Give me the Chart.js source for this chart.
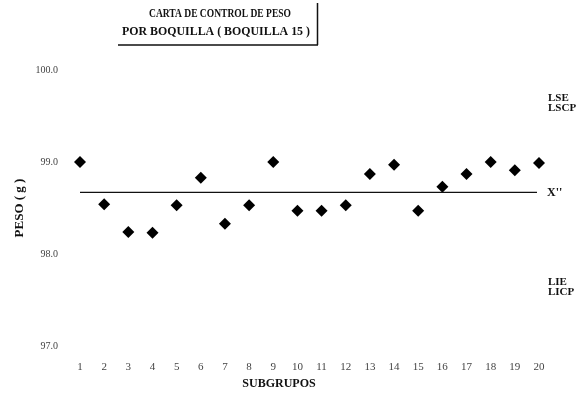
<!DOCTYPE html>
<html>
<head>
<meta charset="utf-8">
<script src="https://cdn.jsdelivr.net/npm/chart.js@4.4.1/dist/chart.umd.min.js"></script>
<style>
  html, body { margin: 0; padding: 0; background: #fff; }
  #wrap { width: 586px; height: 394px; position: relative; }
</style>
</head>
<body>
<div id="wrap"><canvas id="c" width="586" height="394"></canvas></div>
<script>
// Subgrupos (muestras) y peso medio de cada uno, en gramos
const subgrupos = ['1','2','3','4','5','6','7','8','9','10','11','12','13','14','15','16','17','18','19','20'];
const pesos = [99.00, 98.54, 98.24, 98.23, 98.53, 98.83, 98.33, 98.53, 99.00, 98.47,
               98.47, 98.53, 98.87, 98.97, 98.47, 98.73, 98.87, 99.00, 98.91, 98.99];
const lineaCentral = 98.67;               // X''
const ticksPeso = [97, 98, 99, 100];
const limitesSup = ['LSE', 'LSCP'];
const limitesInf = ['LIE', 'LICP'];
const titulo = ['CARTA DE CONTROL DE PESO', 'POR BOQUILLA ( BOQUILLA 15 )'];

const SERIF = '"Liberation Serif", "DejaVu Serif", serif';

const textos = {
  id: 'textos',
  afterDatasetsDraw(chart) {
    const { ctx, chartArea, scales } = chart;
    const y = scales.y;
    ctx.save();

    // línea central X''
    const yc = y.getPixelForValue(lineaCentral);
    ctx.strokeStyle = '#111';
    ctx.lineWidth = 1.3;
    ctx.beginPath();
    ctx.moveTo(chartArea.left, yc);
    ctx.lineTo(chartArea.right - 2, yc);
    ctx.stroke();

    ctx.fillStyle = '#111';
    ctx.font = 'bold 12px ' + SERIF;
    ctx.textAlign = 'left';
    ctx.textBaseline = 'middle';
    ctx.fillText("X''", chartArea.right + 8, yc + 1);

    // etiquetas de límites
    ctx.font = 'bold 11px ' + SERIF;
    ctx.fillText(limitesSup[0], 548, 98);
    ctx.fillText(limitesSup[1], 548, 108);
    ctx.fillText(limitesInf[0], 548, 282);
    ctx.fillText(limitesInf[1], 548, 292);

    // título con recuadro
    ctx.textAlign = 'center';
    ctx.font = 'bold 12.5px ' + SERIF;
    ctx.fillText(titulo[0], 220, 14, 142);
    ctx.fillText(titulo[1], 216, 32, 188);
    ctx.lineWidth = 1.5;
    ctx.beginPath();
    ctx.moveTo(118, 45);
    ctx.lineTo(318, 45);
    ctx.moveTo(317.5, 3);
    ctx.lineTo(317.5, 45);
    ctx.stroke();

    // títulos de ejes
    ctx.font = 'bold 12px ' + SERIF;
    ctx.fillText('SUBGRUPOS', 279, 384);
    ctx.save();
    ctx.translate(20, 208);
    ctx.rotate(-Math.PI / 2);
    ctx.font = 'bold 13px ' + SERIF;
    ctx.fillText('PESO ( g )', 0, 0);
    ctx.restore();

    ctx.restore();
  }
};

new Chart(document.getElementById('c'), {
  type: 'line',
  data: {
    labels: subgrupos,
    datasets: [{
      data: pesos,
      showLine: false,
      pointStyle: 'rectRot',
      pointRadius: 6,
      pointHoverRadius: 6,
      pointBackgroundColor: '#000',
      pointBorderColor: '#000',
      borderWidth: 0,
      clip: false
    }]
  },
  options: {
    responsive: false,
    animation: false,
    events: [],
    layout: { padding: { left: 0, right: 47, top: 70, bottom: 0 } },
    plugins: { legend: { display: false }, tooltip: { enabled: false }, title: { display: false } },
    scales: {
      x: {
        type: 'category',
        offset: false,
        grid: { drawOnChartArea: false, drawTicks: false },
        border: { display: false },
        ticks: {
          color: '#444',
          font: { family: SERIF, size: 11 },
          padding: 15,
          maxRotation: 0,
          autoSkip: false
        },
        afterFit(s) { s.height = 48; }
      },
      y: {
        min: 97,
        max: 100,
        grid: { drawOnChartArea: false, drawTicks: false },
        border: { display: false },
        afterBuildTicks(s) { s.ticks = ticksPeso.map(v => ({ value: v })); },
        ticks: {
          color: '#444',
          font: { family: SERIF, size: 10 },
          padding: 22,
          callback: v => Number(v).toFixed(1)
        },
        afterFit(s) { s.width = 80; }
      }
    }
  },
  plugins: [textos]
});
</script>
</body>
</html>
